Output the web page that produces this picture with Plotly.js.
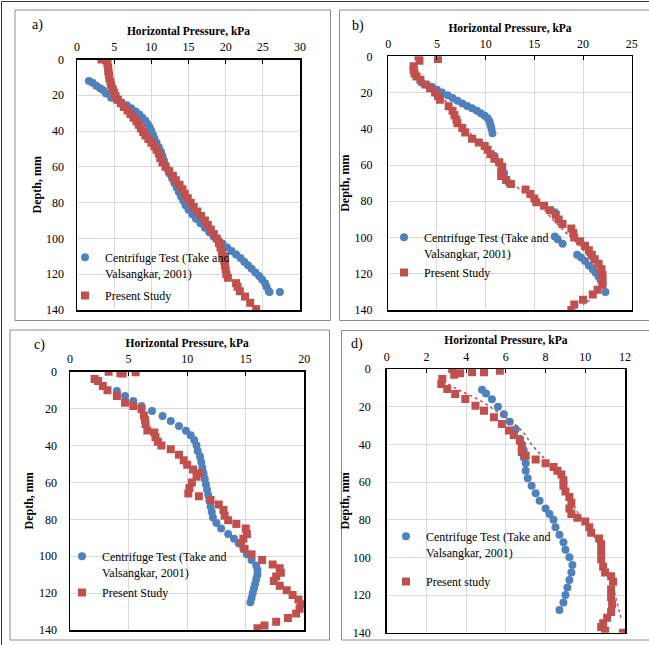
<!DOCTYPE html>
<html>
<head>
<meta charset="utf-8">
<script src="https://cdn.plot.ly/plotly-3.0.1.min.js"></script>
<style>html,body{margin:0;padding:0;background:#fff;}#chart{width:649px;height:645px;}</style>
</head>
<body>
<div id="chart"></div>
<script>
// ---------- DATA ----------
// Panel a
const aCentX = [1.6,2.1,2.6,3.1,3.5,3.9,4.6,5.3,6.0,6.7,7.3,7.9,8.4,8.8,9.2,9.5,9.8,10.0,10.2,10.4,10.7,11.0,11.3,11.5,11.7,11.9,12.2,12.5,12.8,13.1,13.4,13.7,14.0,14.3,14.6,15.0,15.5,16.0,16.6,17.2,17.8,18.4,19.0,19.6,20.2,20.8,21.4,22.0,22.5,23.0,23.5,24.0,24.5,24.9,25.3,25.5,25.8,25.9,27.3];
const aCentY = [12,13,14.7,16,17.1,19,21.4,22.5,24,25.6,27.3,29,30.8,32.5,34.3,36,38,40,42,44,46.5,49,51.5,54,56.5,59,61.5,64,66.5,69,71.5,74,76.5,79,81.5,84,86.5,89,91.5,94,96.5,99,101,103,105,107,109,111,113,115,117,119,121,123,125,127,129.5,130,130];
const aPresX = [3.3,3.9,4.1,4.2,4.2,4.3,4.35,4.5,4.6,4.8,5.0,5.2,5.5,5.9,6.3,6.8,7.2,7.6,8.0,8.3,8.6,8.9,9.2,9.6,10.0,10.4,10.7,11.0,11.2,11.5,11.9,12.4,12.9,13.3,13.8,14.2,14.5,14.9,15.3,15.7,16.2,16.7,17.2,17.6,18.0,18.4,18.8,19.1,19.3,19.5,19.7,19.8,19.9,20.0,20.1,20.3,21.4,21.6,21.9,22.6,23.3,24.1];
const aPresY = [0,0.5,2.5,4.5,6.5,8.5,10.5,12.5,14.5,16.5,18.5,20.5,22.5,24.5,26.5,28.5,30.5,32.5,34.5,36.5,38.5,40.5,42.5,44.5,46.5,48.5,50.5,52.5,55,57.5,60,62.5,65,67.5,70,72.5,75,77.5,80,82.5,85,87.5,90,92.5,95,97.5,100,102.5,105,107.5,110,112.5,115,117.5,120,122,125,127,129.5,132.5,136,139.5];

// Panel b
const bCentX = [3.4,4.0,4.5,5.0,5.5,6.1,6.6,7.1,7.6,8.1,8.6,9.1,9.5,9.9,10.2,10.4,10.5,10.6,10.7,10.9,11.4,11.9,12.4,17.1,17.1,17.4,17.9,19.4,19.8,20.2,20.6,21.0,21.3,21.6,21.8,22.0,22.3];
const bCentY = [14.5,15.8,17,18.5,20,21.5,23,24.5,26,27.4,28.7,30,31.4,32.8,34.2,36,38,40,42.4,55,59,64.6,70,86,99.5,101,103.5,109.5,111,113,115.5,117.5,119.5,121.5,123.5,125.5,130];
const bPresX = [3.1,3.2,5.1,2.6,2.6,2.7,2.9,3.3,3.8,4.3,4.8,5.1,5.3,6.2,6.6,6.8,7.0,7.1,7.6,7.9,8.6,9.3,9.9,10.2,10.5,10.9,11.4,11.7,11.6,11.6,12.1,12.6,14.1,14.6,15.0,15.2,16.0,16.6,17.2,17.5,17.9,18.8,19.0,19.1,19.7,20.2,20.6,20.9,21.2,21.6,21.9,22.0,22.0,22.0,21.5,21.0,20.0,19.1,18.8];
const bPresY = [0,2.5,1.5,5.5,7.5,9.5,11.2,13,15.5,17.6,20,22,24,27.5,30,32.5,35,37,39.5,42,45.5,47.5,49.5,51.5,54,56.5,58.5,61,63.5,66,68.2,70.5,73.5,76,78.5,80.5,82.5,85,87.5,90,92.5,95,97.5,100,102,104.5,107,109.5,112,114.5,117.5,120.5,123.5,126,128.8,131.5,134.3,137,140];
const bTrendX = [2.7,3.5,4.8,6.3,7.3,8.5,10.0,11.2,12.0,13.2,14.6,15.9,16.9,18.0,19.2,20.2,21.1,21.7,21.5,20.0];
const bTrendY = [8,14,20,27,35,43,50,58,65,72,78,84,90,96,102,108,115,122,130,137];

// Panel c
const cCentX = [4.0,4.7,5.4,6.1,7.0,7.9,8.6,9.3,9.9,10.3,10.6,10.8,10.9,11.1,11.2,11.3,11.4,11.5,11.6,11.7,11.8,11.9,12.0,12.1,12.2,12.5,12.9,13.5,14.0,14.4,14.8,15.1,15.5,15.9,16.0,16.0,15.9,15.8,15.7,15.6,15.5,15.4];
const cCentY = [10.5,13.2,15.9,18.6,21.3,24,26.7,29.4,32,34.5,37,40,43,46,49,52,55,58,61,64,67,70,73,76,79,82,85,88,90.5,93,96,99,102,105,107.5,110,112.5,115,117.5,120,122.5,125];
const cPresX = [3.3,4.3,5.6,4.5,2.1,2.4,2.8,3.2,4.0,4.7,5.4,6.1,6.3,6.4,6.45,6.6,7.2,7.3,7.5,7.8,8.6,9.3,9.7,10.0,10.5,11.0,10.8,10.4,10.2,10.1,11.0,12.0,12.7,13.1,13.2,13.5,14.2,15.0,15.1,14.8,14.6,14.9,15.5,16.4,17.3,17.9,18.0,17.6,17.4,17.9,18.5,19.0,19.5,19.7,19.6,19.3,18.6,17.6,16.6,16.0];
const cPresY = [0,0.9,0.3,1,4,5,7.8,10,13.2,16.8,18.6,20.2,23.8,26,28.3,31.9,33,35.5,38,40,42,45,48,50.5,53,55,57,60,63,66,67.5,69.5,72,75,78,80.5,82.5,85,88,90.5,93,96,99,102,104.5,106.5,109,111,113.5,116,118.5,121,123.5,126,128.5,131,133.5,135.5,137.5,139];

// Panel d
const dCentX = [4.8,5.0,5.3,5.6,5.9,6.2,6.5,6.7,6.8,6.9,6.9,7.0,7.0,7.1,7.3,7.5,7.7,8.0,8.2,8.4,8.5,8.7,8.9,9.0,9.2,9.35,9.3,9.2,9.1,9.0,8.9,8.7];
const dCentY = [11,13,16,20,24,28,32,37,40,43,47,50,54,58,62,66,70,74,77,80,84,88,92,96,100,104,108,112,116,120,124,128];
const dPresX = [3.3,3.7,4.3,4.9,5.7,3.4,2.8,2.75,3.05,3.45,3.96,4.47,4.9,5.4,5.8,6.15,6.4,6.7,6.8,6.8,7.0,7.5,8.0,8.4,8.6,8.8,8.9,8.9,9.0,9.2,9.3,9.2,9.3,9.6,10.0,10.2,10.3,10.7,10.8,10.8,10.8,10.9,11.0,11.3,11.4,11.3,11.3,11.35,11.3,11.1,10.9,10.8,11.0,11.9];
const dPresY = [0,2.3,1.7,1.7,0.9,3,5.3,8,10.6,13.3,15.9,19.5,22.1,25.6,29.2,32.7,35,38,41,44,46,48,50,52,54,56,59,62,65,68,71,74,77,79,81,84,87,90,93,97,101,105,108,110,113,117,121,125,129,132,135,137,139,140];
const dTrendX = [3.1,3.6,4.2,4.9,5.6,6.3,6.9,7.3,7.8,8.4,8.8,9.1,9.3,9.6,10.0,10.4,10.7,10.9,11.1,11.4,11.6,11.8];
const dTrendY = [8,11,14,18,23,28,34,40,46,52,58,64,70,76,82,88,94,100,108,116,124,132];

const xRanges = [[0,30],[0,25],[0,20],[0,12]];
const xDticks = [5,5,5,2];
const panelLetters = ['a)','b)','c)','d)'];
const centName = 'Centrifuge Test (Take and<br>Valsangkar, 2001)';
const presNames = ['Present Study','Present Study','Present Study','Present study'];

// ---------- STYLE / LAYOUT ----------
const W = 649, H = 645;
const px = v => v / W, py = v => 1 - v / H;
const BLUE = '#4F81BD', RED = '#C0504D';
const SERIF = 'Liberation Serif';

// plot-area pixel boxes [left, right, top, bottom]
const boxes = [[77,300,59.5,310],[388.3,631.7,56.3,310],[70,304.3,371.7,630],[386.7,625,369,632.7]];
// legend anchors [left px, top px, group gap]
const legPos = [[65,243,4],[384,223,1],[62,542,2],[386,522,11]];
const letterPos = [[37,25],[358,26],[39,345],[357,344]];
const yTitleStand = [2,2,3,0];

const series = [
  [aCentX,aCentY,aPresX,aPresY,null,null],
  [bCentX,bCentY,bPresX,bPresY,bTrendX,bTrendY],
  [cCentX,cCentY,cPresX,cPresY,null,null],
  [dCentX,dCentY,dPresX,dPresY,dTrendX,dTrendY]
];

const data = [];
const layout = {
  width: W, height: H,
  margin: {l:0,r:0,t:0,b:0,autoexpand:false},
  paper_bgcolor: '#fff', plot_bgcolor: '#fff',
  font: {family: SERIF, color: '#000', size: 12},
  annotations: [], shapes: []
};

series.forEach((s, i) => {
  const n = i === 0 ? '' : String(i + 1);
  const xa = 'x' + n, ya = 'y' + n;
  const lg = 'legend' + n;
  data.push({type:'scatter', mode:'markers', x:s[0], y:s[1], xaxis:xa, yaxis:ya,
    name:centName, legend:lg, legendgroup:'c'+i,
    marker:{symbol:'circle', size:8, color:BLUE}});
  if (s[4]) {
    data.push({type:'scatter', mode:'lines', x:s[4], y:s[5], xaxis:xa, yaxis:ya,
      showlegend:false, hoverinfo:'skip', line:{color:RED, width:1.5, dash:'dot', shape:'spline'}});
  }
  data.push({type:'scatter', mode:'markers', x:s[2], y:s[3], xaxis:xa, yaxis:ya,
    name:presNames[i], legend:lg, legendgroup:'p'+i,
    marker:{symbol:'square', size:8, color:RED}});

  const b = boxes[i];
  layout['xaxis' + n] = {
    domain:[px(b[0]), px(b[1])], anchor: ya, side:'top',
    range: xRanges[i], dtick: xDticks[i], tick0: 0,
    showgrid:true, gridcolor:'#d9d9d9', gridwidth:1, zeroline:false,
    showline:true, mirror:true, linecolor:'#000', linewidth:1.5,
    ticks:'inside', ticklen:4, tickwidth:1, tickcolor:'#000',
    ticklabelstandoff: 2, automargin:true,
    tickfont:{family:SERIF, size:12, color:'#000'},
    title:{text:'Horizontal Pressure, kPa', standoff:2, font:{family:SERIF, size:11.5, color:'#000', weight:'bold'}},
    fixedrange:true
  };
  layout['yaxis' + n] = {
    domain:[py(b[3]), py(b[2])], anchor: xa,
    range:[140, 0], dtick:20, tick0:0,
    showgrid:true, gridcolor:'#d9d9d9', gridwidth:1, zeroline:false,
    showline:true, mirror:true, linecolor:'#000', linewidth:1.5,
    ticks:'', ticklabelstandoff: (i % 2 === 0 ? 9 : 12), automargin:true,
    tickfont:{family:SERIF, size:12, color:'#000'},
    title:{text:'Depth, mm', standoff:yTitleStand[i], font:{family:SERIF, size:12, color:'#000', weight:'bold'}},
    fixedrange:true
  };
  const L = legPos[i];
  layout[lg] = {
    x:px(L[0]), y:py(L[1]), xanchor:'left', yanchor:'top',
    bgcolor:'rgba(0,0,0,0)', borderwidth:0, valign:'top',
    tracegroupgap:L[2], font:{family:SERIF, size:12, color:'#000'}
  };
  layout.annotations.push({xref:'paper', yref:'paper', x:px(letterPos[i][0]), y:py(letterPos[i][1]),
    text:panelLetters[i], showarrow:false, xanchor:'center', yanchor:'middle',
    font:{family:SERIF, size:14, color:'#000'}});
});

// panel frames
const frameLine = {color:'#8c8c8c', width:1};
[[15,330.5,10,320.5],[339.5,652,10,320.5],[10,329.5,330,640],[341.5,652,330.5,640]].forEach(f => {
  layout.shapes.push({type:'rect', xref:'paper', yref:'paper', x0:px(f[0]), x1:px(f[1]), y0:py(f[3]), y1:py(f[2]), line:frameLine, layer:'below'});
});
layout.shapes.push({type:'line', xref:'paper', yref:'paper', x0:px(1.5), x1:px(649), y0:py(1.5), y1:py(1.5), line:{color:'#333', width:1}});
layout.shapes.push({type:'line', xref:'paper', yref:'paper', x0:px(1.5), x1:px(1.5), y0:py(1.5), y1:py(645), line:{color:'#333', width:1}});

Plotly.newPlot('chart', data, layout, {displayModeBar:false, staticPlot:true});
</script>
</body>
</html>
